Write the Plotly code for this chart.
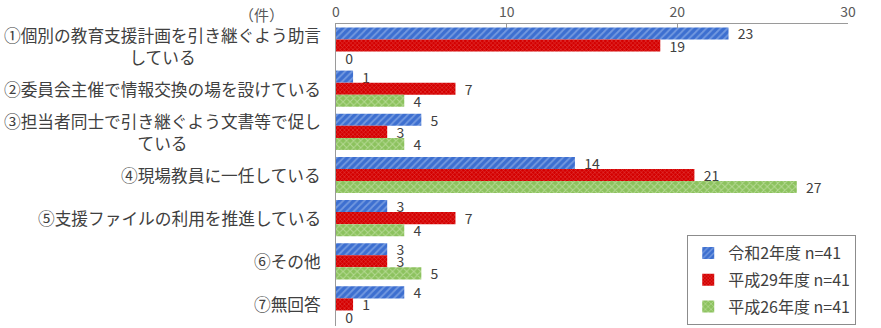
import plotly.graph_objects as go

categories = [
    "①個別の教育支援計画を引き継ぐよう助言<br>している",
    "②委員会主催で情報交換の場を設けている",
    "③担当者同士で引き継ぐよう文書等で促し<br>ている",
    "④現場教員に一任している",
    "⑤支援ファイルの利用を推進している",
    "⑥その他",
    "⑦無回答",
]
series_names = ["令和2年度 n=41", "平成29年度 n=41", "平成26年度 n=41"]
r2_values = [23, 1, 5, 14, 3, 3, 4]
h29_values = [19, 7, 3, 21, 7, 3, 1]
h26_values = [0, 4, 4, 27, 4, 5, 0]
x_ticks = [0, 10, 20, 30]
unit_label = "（件）"

FONT = "Noto Sans CJK JP"
styles = [
    dict(color="#3D6FD0", fg="#A9C3EE", shape="/", size=5),
    dict(color="#D40000", fg="#F07878", shape="x", size=3),
    dict(color="#8CC25E", fg="#DDEFC8", shape="x", size=5),
]

fig = go.Figure()
for i, (name, vals) in enumerate(zip(series_names, [r2_values, h29_values, h26_values])):
    st = styles[i]
    fig.add_trace(go.Bar(
        y=list(range(len(categories))),
        x=vals,
        name=name,
        orientation="h",
        legendgroup=f"g{i}",
        marker=dict(
            color=st["color"],
            line=dict(width=0),
            pattern=dict(shape=st["shape"], fgcolor=st["fg"], size=st["size"], solidity=0.35,
                         fillmode="overlay"),
        ),
        text=[str(v) for v in vals],
        texttemplate="\u00a0\u00a0%{text}",
        textposition="outside",
        constraintext="none",
        textfont=dict(family=FONT, size=14, color="#404040"),
        cliponaxis=False,
    ))

for j, lab in enumerate(categories):
    fig.add_annotation(
        x=0, xref="paper", xanchor="right", xshift=-13,
        y=j, yref="y", yanchor="middle",
        text=lab, showarrow=False, align="center",
        font=dict(family=FONT, size=16.7, color="#404040"),
    )

fig.add_annotation(
    x=0, xref="paper", xanchor="right", xshift=-50,
    y=1, yref="paper", yanchor="bottom", yshift=-3,
    text=unit_label, showarrow=False,
    font=dict(family=FONT, size=15, color="#595959"),
)

fig.update_layout(
    width=881, height=328,
    margin=dict(l=336, r=33, t=24, b=2, autoexpand=False),
    paper_bgcolor="white", plot_bgcolor="white",
    barmode="group", bargap=0.16, bargroupgap=0,
    font=dict(family=FONT, color="#404040"),
    showlegend=True,
    legend=dict(
        x=0.686, y=0.301, xanchor="left", yanchor="top",
        bordercolor="#8C8C8C", borderwidth=1, bgcolor="white",
        font=dict(family=FONT, size=16, color="#404040"),
        tracegroupgap=3, traceorder="grouped",
        itemwidth=30,
    ),
)
fig.update_xaxes(
    side="top", range=[0, 30], tickvals=x_ticks,
    showgrid=False, zeroline=False,
    showline=True, linecolor="#9A9A9A", linewidth=1,
    ticks="inside", ticklen=4, tickcolor="#9A9A9A",
    tickfont=dict(family=FONT, size=14, color="#595959"),
)
fig.update_yaxes(
    showticklabels=False,
    showgrid=False, zeroline=False,
    showline=True, linecolor="#9A9A9A", linewidth=1,
    range=[len(categories) - 0.5, -0.5],
)

fig.write_html(
    "out.html",
    config={"displayModeBar": False},
    post_script="document.body.style.margin='0';document.body.style.overflow='hidden';",
)
